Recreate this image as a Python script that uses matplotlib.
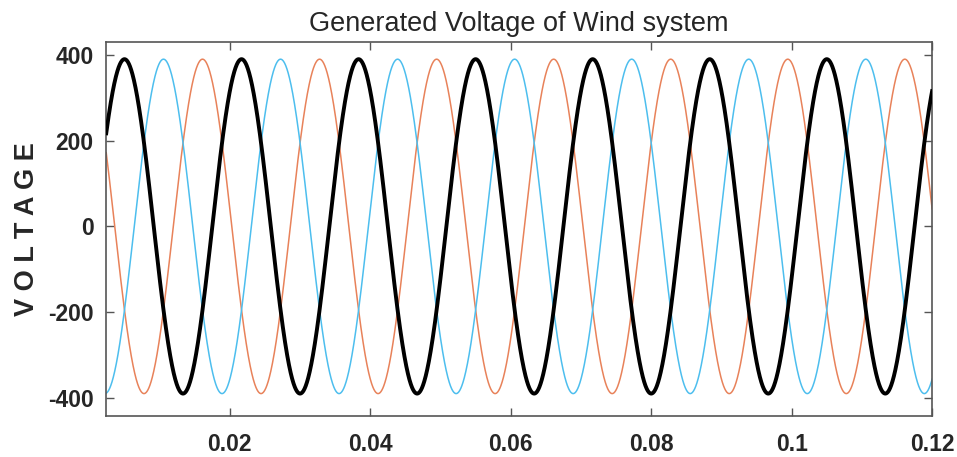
import matplotlib.pyplot as plt
import numpy as np

plt.rcParams['font.family'] = ['Liberation Sans', 'DejaVu Sans']
plt.rcParams['axes.unicode_minus'] = False

# three-phase generator output
amplitude = 390.0        # peak volts
freq = 60.0              # Hz
phase_a = -18.0          # degrees, black phase
phase_shift = [0.0, -120.0, 120.0]   # a, b, c
colors = ['black', '#4DBEEE', '#E8825A']
widths = [2.8, 1.1, 1.1]

t_start, t_end = 0.0024, 0.12
yticks = [-400, -200, 0, 200, 400]
xticks = [0.02, 0.04, 0.06, 0.08, 0.1, 0.12]
xticklabels = ['0.02', '0.04', '0.06', '0.08', '0.1', '0.12']

t = np.linspace(t_start, t_end, 4000)

fig = plt.figure(figsize=(9.57, 4.57), dpi=100)
ax = fig.add_axes([0.111, 0.09, 0.863, 0.818])

# draw b and c first so phase a sits on top
for i in [2, 1, 0]:
    ph = np.deg2rad(phase_a + phase_shift[i])
    v = amplitude * np.sin(2 * np.pi * freq * t + ph)
    ax.plot(t, v, color=colors[i], lw=widths[i], zorder=3 if i == 0 else 2)

ax.set_xlim(t_start, t_end)
ax.set_ylim(-442, 430)
ax.set_yticks(yticks)
ax.set_xticks(xticks)
ax.set_xticklabels(xticklabels)

for lbl in ax.get_xticklabels() + ax.get_yticklabels():
    lbl.set_fontweight('bold')
    lbl.set_fontsize(16.5)
    lbl.set_color('#262626')

ax.tick_params(direction='in', length=6, width=1, color='#555555',
               top=True, right=True)
ax.tick_params(axis='y', pad=9)
ax.tick_params(axis='x', pad=12)
for s in ax.spines.values():
    s.set_color('#555555')
    s.set_linewidth(1.2)

ax.set_title('Generated Voltage of Wind system', fontsize=19.5, color='#262626', pad=8)
ax.set_ylabel('V O L T A G E', fontsize=19.5, fontweight='bold', color='#262626', labelpad=6)

fig.savefig('out.png', dpi=100)
